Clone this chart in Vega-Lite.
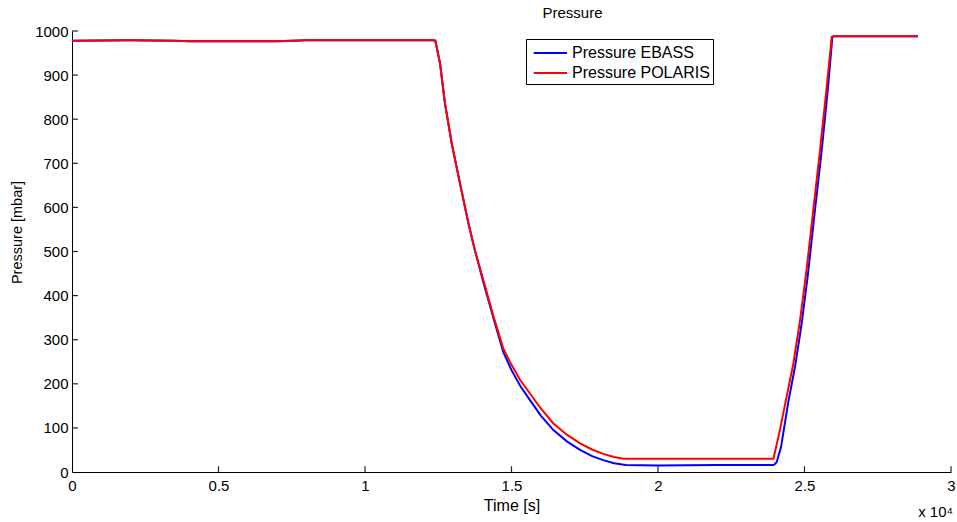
{
  "$schema": "https://vega.github.io/schema/vega-lite/v6.json",
  "width": 879,
  "height": 441,
  "autosize": {"type": "none"},
  "padding": {"left": 72, "top": 31, "right": 6, "bottom": 50},
  "background": "white",
  "title": {"text": "Pressure", "fontSize": 15, "font": "Liberation Sans", "fontWeight": "normal", "color": "black", "anchor": "middle", "dx": 61, "offset": 3},
  "config": {
    "view": {"stroke": null},
    "font": "Liberation Sans",
    "axis": {"grid": false, "domainColor": "black", "labelColor": "black", "titleColor": "black", "labelFont": "Liberation Sans", "titleFont": "Liberation Sans", "labelFontSize": 15, "titleFontSize": 15, "titleFontWeight": "normal", "domainWidth": 1, "labelFlush": false}
  },
  "datasets": {
    "lines": [
      {"t": 0, "p": 978, "series": "Pressure EBASS"},
      {"t": 2000, "p": 979, "series": "Pressure EBASS"},
      {"t": 3500, "p": 978, "series": "Pressure EBASS"},
      {"t": 4000, "p": 977, "series": "Pressure EBASS"},
      {"t": 7000, "p": 977, "series": "Pressure EBASS"},
      {"t": 8000, "p": 979, "series": "Pressure EBASS"},
      {"t": 12300, "p": 979, "series": "Pressure EBASS"},
      {"t": 12400, "p": 978, "series": "Pressure EBASS"},
      {"t": 12560, "p": 927, "series": "Pressure EBASS"},
      {"t": 12730, "p": 836, "series": "Pressure EBASS"},
      {"t": 12960, "p": 745, "series": "Pressure EBASS"},
      {"t": 13240, "p": 655, "series": "Pressure EBASS"},
      {"t": 13530, "p": 564, "series": "Pressure EBASS"},
      {"t": 13750, "p": 503, "series": "Pressure EBASS"},
      {"t": 14040, "p": 430, "series": "Pressure EBASS"},
      {"t": 14380, "p": 350, "series": "Pressure EBASS"},
      {"t": 14720, "p": 272, "series": "Pressure EBASS"},
      {"t": 15000, "p": 231, "series": "Pressure EBASS"},
      {"t": 15300, "p": 195, "series": "Pressure EBASS"},
      {"t": 15630, "p": 163, "series": "Pressure EBASS"},
      {"t": 16000, "p": 128, "series": "Pressure EBASS"},
      {"t": 16430, "p": 95, "series": "Pressure EBASS"},
      {"t": 16900, "p": 69, "series": "Pressure EBASS"},
      {"t": 17340, "p": 50, "series": "Pressure EBASS"},
      {"t": 17750, "p": 36, "series": "Pressure EBASS"},
      {"t": 18130, "p": 27, "series": "Pressure EBASS"},
      {"t": 18500, "p": 20, "series": "Pressure EBASS"},
      {"t": 18900, "p": 16, "series": "Pressure EBASS"},
      {"t": 20000, "p": 15, "series": "Pressure EBASS"},
      {"t": 22000, "p": 16, "series": "Pressure EBASS"},
      {"t": 23950, "p": 16, "series": "Pressure EBASS"},
      {"t": 24050, "p": 22, "series": "Pressure EBASS"},
      {"t": 24200, "p": 57, "series": "Pressure EBASS"},
      {"t": 24450, "p": 160, "series": "Pressure EBASS"},
      {"t": 24680, "p": 240, "series": "Pressure EBASS"},
      {"t": 24900, "p": 335, "series": "Pressure EBASS"},
      {"t": 25120, "p": 450, "series": "Pressure EBASS"},
      {"t": 25350, "p": 590, "series": "Pressure EBASS"},
      {"t": 25580, "p": 725, "series": "Pressure EBASS"},
      {"t": 25800, "p": 870, "series": "Pressure EBASS"},
      {"t": 25950, "p": 986, "series": "Pressure EBASS"},
      {"t": 26000, "p": 988, "series": "Pressure EBASS"},
      {"t": 28870, "p": 988, "series": "Pressure EBASS"},
      {"t": 0, "p": 978, "series": "Pressure POLARIS"},
      {"t": 2000, "p": 979, "series": "Pressure POLARIS"},
      {"t": 3500, "p": 978, "series": "Pressure POLARIS"},
      {"t": 4000, "p": 977, "series": "Pressure POLARIS"},
      {"t": 7000, "p": 977, "series": "Pressure POLARIS"},
      {"t": 8000, "p": 979, "series": "Pressure POLARIS"},
      {"t": 12300, "p": 979, "series": "Pressure POLARIS"},
      {"t": 12400, "p": 978, "series": "Pressure POLARIS"},
      {"t": 12560, "p": 927, "series": "Pressure POLARIS"},
      {"t": 12730, "p": 836, "series": "Pressure POLARIS"},
      {"t": 12960, "p": 745, "series": "Pressure POLARIS"},
      {"t": 13240, "p": 655, "series": "Pressure POLARIS"},
      {"t": 13530, "p": 564, "series": "Pressure POLARIS"},
      {"t": 13750, "p": 503, "series": "Pressure POLARIS"},
      {"t": 14040, "p": 435, "series": "Pressure POLARIS"},
      {"t": 14380, "p": 354, "series": "Pressure POLARIS"},
      {"t": 14720, "p": 280, "series": "Pressure POLARIS"},
      {"t": 15000, "p": 243, "series": "Pressure POLARIS"},
      {"t": 15300, "p": 208, "series": "Pressure POLARIS"},
      {"t": 15630, "p": 178, "series": "Pressure POLARIS"},
      {"t": 16000, "p": 144, "series": "Pressure POLARIS"},
      {"t": 16430, "p": 110, "series": "Pressure POLARIS"},
      {"t": 16900, "p": 84, "series": "Pressure POLARIS"},
      {"t": 17340, "p": 65, "series": "Pressure POLARIS"},
      {"t": 17750, "p": 51, "series": "Pressure POLARIS"},
      {"t": 18130, "p": 41, "series": "Pressure POLARIS"},
      {"t": 18500, "p": 34, "series": "Pressure POLARIS"},
      {"t": 18820, "p": 30, "series": "Pressure POLARIS"},
      {"t": 20000, "p": 30, "series": "Pressure POLARIS"},
      {"t": 22000, "p": 30, "series": "Pressure POLARIS"},
      {"t": 23940, "p": 30, "series": "Pressure POLARIS"},
      {"t": 24160, "p": 95, "series": "Pressure POLARIS"},
      {"t": 24390, "p": 171, "series": "Pressure POLARIS"},
      {"t": 24620, "p": 246, "series": "Pressure POLARIS"},
      {"t": 24850, "p": 345, "series": "Pressure POLARIS"},
      {"t": 25070, "p": 458, "series": "Pressure POLARIS"},
      {"t": 25300, "p": 594, "series": "Pressure POLARIS"},
      {"t": 25530, "p": 730, "series": "Pressure POLARIS"},
      {"t": 25760, "p": 874, "series": "Pressure POLARIS"},
      {"t": 25930, "p": 987, "series": "Pressure POLARIS"},
      {"t": 26000, "p": 988, "series": "Pressure POLARIS"},
      {"t": 28870, "p": 988, "series": "Pressure POLARIS"}
    ],
    "xticks": [{"t": 5000}, {"t": 10000}, {"t": 15000}, {"t": 20000}, {"t": 25000}, {"t": 30000}],
    "yticks": [{"p": 100}, {"p": 200}, {"p": 300}, {"p": 400}, {"p": 500}, {"p": 600}, {"p": 700}, {"p": 800}, {"p": 900}, {"p": 1000}],
    "note": [{"t": 30000, "p": 0, "label": "x 10⁴"}]
  },
  "layer": [
    {
      "data": {"name": "xticks"},
      "mark": {"type": "rule", "color": "#222222", "strokeWidth": 1.2, "clip": false},
      "encoding": {
        "x": {"field": "t", "type": "quantitative"},
        "y": {"datum": 0, "type": "quantitative"},
        "y2": {"datum": 13}
      }
    },
    {
      "data": {"name": "yticks"},
      "mark": {"type": "rule", "color": "#222222", "strokeWidth": 1.2, "clip": false},
      "encoding": {
        "y": {"field": "p", "type": "quantitative"},
        "x": {"datum": 0, "type": "quantitative"},
        "x2": {"datum": 200}
      }
    },
    {
      "data": {"name": "lines"},
      "mark": {"type": "line", "strokeWidth": 2, "clip": true},
      "encoding": {
        "x": {"field": "t", "type": "quantitative", "scale": {"domain": [0, 30000], "nice": false, "zero": false},
          "axis": {"orient": "bottom", "values": [0, 5000, 10000, 15000, 20000, 25000, 30000], "labelExpr": "format(datum.value / 10000, '~g')", "title": "Time [s]", "titleFontSize": 16, "ticks": false, "labelPadding": 6, "titleBaseline": "middle", "titleY": 33}},
        "y": {"field": "p", "type": "quantitative", "scale": {"domain": [0, 1000], "nice": false},
          "axis": {"orient": "left", "values": [0, 100, 200, 300, 400, 500, 600, 700, 800, 900, 1000], "format": "d", "title": "Pressure [mbar]", "titleFontSize": 14.5, "ticks": false, "labelPadding": 4, "titleBaseline": "middle", "titleAlign": "center", "titleX": -55, "titleY": 201}},
        "color": {"field": "series", "type": "nominal",
          "scale": {"domain": ["Pressure EBASS", "Pressure POLARIS"], "range": ["#0000ff", "#ff0000"]},
          "legend": {"title": null, "orient": "none", "legendX": 454, "legendY": 8, "strokeColor": "black", "fillColor": "white", "padding": 3, "symbolType": "M-0.63,0H2.7", "symbolSize": 400, "symbolStrokeWidth": 2, "labelFontSize": 16, "labelFont": "Liberation Sans", "labelColor": "black", "rowPadding": 1, "labelOffset": 21}}
      }
    },
    {
      "data": {"name": "note"},
      "mark": {"type": "text", "align": "right", "baseline": "middle", "fontSize": 15, "font": "Liberation Sans", "color": "black", "dy": 40, "dx": 2, "clip": false},
      "encoding": {
        "x": {"field": "t", "type": "quantitative"},
        "y": {"field": "p", "type": "quantitative"},
        "text": {"field": "label"}
      }
    }
  ]
}
